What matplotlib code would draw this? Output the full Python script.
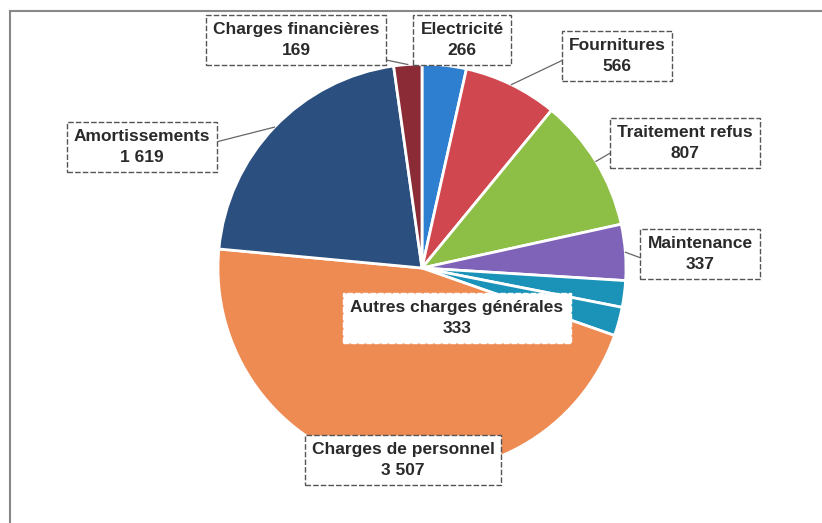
import matplotlib
matplotlib.use("Agg")
import matplotlib.pyplot as plt
import numpy as np

# Données (k€)
categories = ["Electricité", "Fournitures", "Traitement refus", "Maintenance",
              "Autres charges générales", "Autres charges générales",
              "Charges de personnel", "Amortissements", "Charges financières"]
# "Autres charges générales" (333) apparaît en deux parts sur le graphique
values = [266, 566, 807, 337, 160, 173, 3507, 1619, 169]
labels = ["Electricité\n266", "Fournitures\n566", "Traitement refus\n807",
          "Maintenance\n337", "Autres charges générales\n333", None,
          "Charges de personnel\n3 507", "Amortissements\n1 619",
          "Charges financières\n169"]
colors = ["#2F7FD0", "#D0474F", "#8DBE45", "#7E63B8", "#1B93B8", "#1B93B8",
          "#EE8B53", "#2B4F7E", "#8A2B36"]

W, H = 822, 523
plt.rcParams["font.family"] = ["Liberation Sans Narrow", "Liberation Sans", "DejaVu Sans"]

fig = plt.figure(figsize=(W / 100, H / 100), dpi=100)
ax = fig.add_axes([0, 0, 1, 1])
ax.set_xlim(0, W)
ax.set_ylim(0, H)
ax.axis("off")


def py(y):
    # coordonnées pixel (haut -> bas) vers axes
    return H - y


cx, cy, r = 422, py(268), 204
wedges, _ = ax.pie(values, colors=colors, startangle=90, counterclock=False,
                   center=(cx, cy), radius=r, frame=False,
                   wedgeprops=dict(edgecolor="white", linewidth=2))
ax.set_xlim(0, W)
ax.set_ylim(0, H)
ax.set_aspect("equal")

# cadre (haut et gauche)
ax.plot([10, W], [py(11), py(11)], color="#888888", lw=1.5)
ax.plot([10, 10], [py(11), 0], color="#888888", lw=1.5)

# position des étiquettes (centre, pixels) et bordure
label_pos = {
    0: (462, 40, True),
    1: (617, 56, True),
    2: (685, 143, True),
    3: (700, 254, True),
    4: (457, 318, False),
    6: (403, 460, True),
    7: (142, 147, True),
    8: (296, 40, True),
}
leaders = {1: (563, 60), 2: (612, 152), 3: (641, 258), 7: (216, 142), 8: (386, 60)}

for i, (x, y, border) in label_pos.items():
    if i in leaders:
        w = wedges[i]
        mid = np.deg2rad((w.theta1 + w.theta2) / 2)
        ex, ey = cx + r * np.cos(mid), cy + r * np.sin(mid)
        lx, ly = leaders[i]
        ax.plot([lx, ex], [py(ly), ey], color="#666666", lw=0.9, zorder=4)
    ax.text(x, py(y), labels[i], ha="center", va="center", fontsize=12.5,
            fontweight="bold", color="#2a2a2a", linespacing=1.5, zorder=5,
            bbox=dict(boxstyle="square,pad=0.4", fc="white",
                      ec="#555555" if border else "white",
                      ls=(0, (4, 1.5)), lw=1.0))

fig.savefig("out.png", dpi=100)
